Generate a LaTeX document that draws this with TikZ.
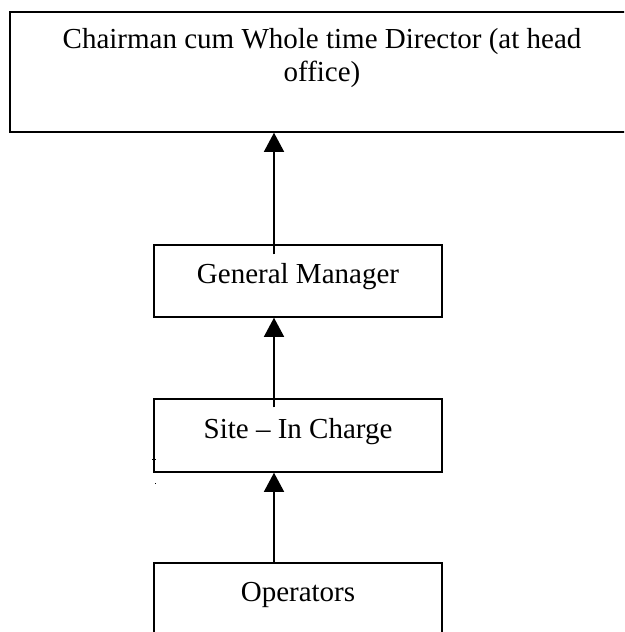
\documentclass[tikz,border=0pt]{standalone}
\usepackage{fontspec}
\setmainfont{Liberation Serif}
\usetikzlibrary{arrows.meta}

\begin{document}
\begin{tikzpicture}[x = 1pt, y = -1pt]

    \useasboundingbox (0,0) rectangle (624,632);
    \clip (0,0) rectangle (624,632);

    \tikzset{boxstyle/.style={draw,line width=1.5pt,rectangle,text height=20pt,text depth=15pt,font=\fontsize{29}{33}\selectfont}}
    \tikzset{uparrow/.style={-{Triangle[width=20pt,length=19pt]},line width=1.3pt}}

    \node[boxstyle, minimum width=624pt, minimum height=120pt] (chair) at ( 322, 72) {};
    \node[font=\fontsize{29}{33}\selectfont, align=center] (chairlabel) at ( 322, 58)
        {Chairman cum Whole time Director (at head\\office)};

    \node[boxstyle, minimum width=288pt, minimum height=72pt] (manager) at ( 298, 281) {General Manager};
    \node[boxstyle, minimum width=288pt, minimum height=73pt] (site) at ( 298, 435.5) {Site -- In Charge};
    \node[boxstyle, minimum width=288pt, minimum height=72pt] (operators) at ( 298, 599) {Operators};

    \begin{scope}[every path/.style={uparrow}]
        \draw ([xshift=-24pt,yshift=-10pt]manager.north) -- ([xshift=-24pt]manager.north |- chair.south);
        \draw ([xshift=-24pt,yshift=-9pt]site.north) -- ([xshift=-24pt]site.north |- manager.south);
        \draw ([xshift=-24pt]operators.north) -- ([xshift=-24pt]operators.north |- site.south);
    \end{scope}

    % Marcas sueltas.
    \fill (152,458.5) rectangle (156,460);
    \fill (154.5,482.5) rectangle (156,484);

\end{tikzpicture}
\end{document}
